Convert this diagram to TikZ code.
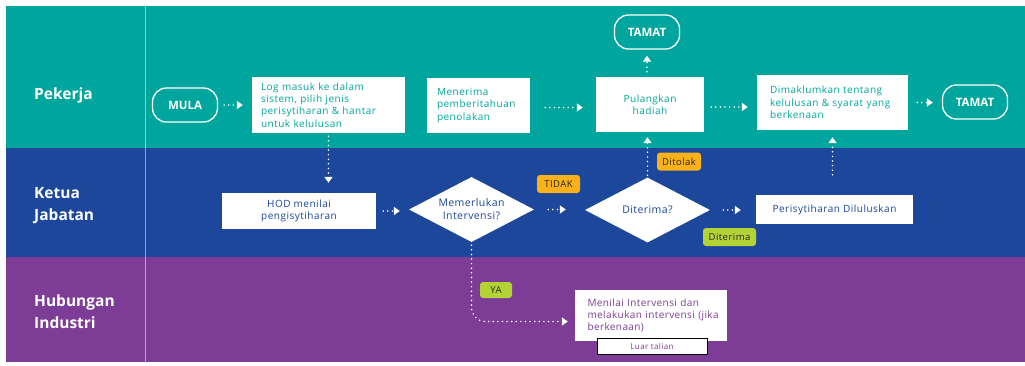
\documentclass[tikz,border=0pt]{standalone}
\usepackage{fontspec}
\setmainfont{Open Sans}
\newfontfamily\cardfont[LetterSpace=5]{Open Sans}
\newfontfamily\askfont[LetterSpace=4]{Open Sans}
\usepackage{xcolor}
\usetikzlibrary{shapes.geometric,arrows.meta}
\definecolor{laneteal}{HTML}{00A69D}
\definecolor{laneblue}{HTML}{1C479B}
\definecolor{lanepurple}{HTML}{7D3D96}
\definecolor{tagorange}{HTML}{FBB11A}
\definecolor{taglime}{HTML}{B3D236}

\begin{document}
\begin{tikzpicture}[x=1pt, y=-1pt,
  lanetext/.style={text=white, anchor=west, align=left, inner sep=0pt, font=\fontsize{15.5}{22}\selectfont\bfseries},
  pill/.style={draw=white, line width=1.3pt, rounded corners=14pt, minimum width=65, minimum height=34,
    text=white, font=\fontsize{11.5}{14}\selectfont\bfseries},
  card/.style={fill=white, inner sep=0pt, font=\cardfont\fontsize{10}{12.4}\selectfont},
  choice/.style={diamond, fill=white, inner sep=0pt, aspect=1.9, minimum width=125, minimum height=65,
    text=laneblue, align=center, font=\askfont\fontsize{10.5}{13}\selectfont},
  tag/.style={rounded corners=3pt, inner sep=0pt, minimum height=18, text=black!85,
    font=\cardfont\fontsize{9.5}{11}\selectfont},
  flow/.style={white, line width=1.7pt, line cap=round, dash pattern=on 0pt off 4.6pt,
    -{Triangle[width=8pt,length=6pt]}}]
\useasboundingbox (0,0) rectangle (1025,365);
\fill[laneteal] (6,6) rectangle (1025,148);
\fill[laneblue] (6,148) rectangle (1025,257);
\fill[lanepurple] (6,257) rectangle (1025,362);
\draw[white, opacity=0.5, line width=1pt] (145,6) -- (145,362);

\node[lanetext] (pekerja) at (34,95) {Pekerja};
\node[lanetext] (ketua) at (34,206) {Ketua\\Jabatan};
\node[lanetext] (hubungan) at (34,312) {Hubungan\\Industri};

\node[pill] (mula) at (185,105) {MULA};
\node[card, text=laneteal, minimum width=153, minimum height=56, text width=135, align=left] (log) at (328.5,105)
  {Log masuk ke dalam\\sistem, pilih jenis\\perisytiharan \& hantar\\untuk kelulusan};
\node[card, text=laneteal, minimum width=103, minimum height=55, text width=83, align=left] (tolak) at (478.5,105.5)
  {Menerima\\pemberitahuan\\penolakan};
\node[card, text=laneteal, minimum width=108, minimum height=55, align=center] (pulang) at (650,104.5)
  {Pulangkan\\hadiah};
\node[pill] (tamatA) at (647,32) {TAMAT};
\node[card, text=laneteal, minimum width=151, minimum height=55, text width=125, align=left] (maklum) at (832.5,102.5)
  {Dimaklumkan tentang\\kelulusan \& syarat yang\\berkenaan};
\node[pill] (tamatB) at (975,102) {TAMAT};

\node[card, text=laneblue, minimum width=154, minimum height=36, align=center] (hod) at (299,211)
  {HOD menilai\\pengisytiharan};
\node[choice] (perlu) at (471.5,209.5) {Memerlukan\\Intervensi?};
\node[choice] (terima) at (647.5,210) {Diterima?};
\node[card, text=laneblue, minimum width=157, minimum height=29] (lulus) at (834.5,209.5)
  {Perisytiharan Diluluskan};

\node[card, text=lanepurple, font=\askfont\fontsize{10}{12.4}\selectfont, minimum width=152, minimum height=51,
  text width=127, align=left] (nilai) at (651,315.5)
  {Menilai Intervensi dan\\\mbox{melakukan intervensi (jika}\\berkenaan)};
\node[draw=black, fill=white, inner sep=0pt, minimum width=110, minimum height=16, text=lanepurple,
  font=\cardfont\fontsize{8}{9}\selectfont] (luar) at (652,346) {Luar talian};

\node[tag, fill=tagorange, minimum width=43] (tidak) at (558.5,184) {TIDAK};
\node[tag, fill=tagorange, minimum width=44] (ditolak) at (679,161.5) {Ditolak};
\node[tag, fill=taglime, minimum width=53] (diterima) at (729.5,237) {Diterima};
\node[tag, fill=taglime, minimum width=32, minimum height=16] (ya) at (496,290) {YA};

\draw[flow, shorten <=6pt, shorten >=9pt] (mula.east) -- (log.west |- mula.east);
\draw[flow, shorten <=15pt, shorten >=13pt] ([yshift=-2pt]tolak.east) -- ([yshift=-2pt]tolak.east -| pulang.west);
\draw[flow, shorten <=7pt, shorten >=9pt] ([yshift=-2.5pt]pulang.east) -- ([yshift=-2.5pt]pulang.east -| maklum.west);
\draw[flow, shorten <=9pt, shorten >=9pt] (maklum.east) -- (maklum.east -| tamatB.west);
\draw[flow, shorten <=5pt, shorten >=6pt] (pulang.north -| tamatA.south) -- (tamatA.south);
\draw[flow, shorten <=3pt, shorten >=10pt] (log.south) -- (log.south |- hod.north);
\draw[flow, shorten <=7pt, shorten >=9pt] (hod.east) -- (hod.east -| perlu.west);
\draw[flow, shorten <=14pt, shorten >=19pt] (perlu.east) -- (perlu.east -| terima.west);
\draw[flow, shorten <=2pt, shorten >=5pt] (terima.north) -- (terima.north |- pulang.south);
\draw[flow, shorten <=13pt, shorten >=15pt] (terima.east) -- (terima.east -| lulus.west);
\draw[flow, shorten <=20pt, shorten >=7pt] (lulus.north -| maklum.south) -- (maklum.south);
\draw[flow, rounded corners=14pt, shorten <=3pt, shorten >=7pt] (perlu.south) |- ([yshift=-6pt]nilai.west);
\end{tikzpicture}
\end{document}
